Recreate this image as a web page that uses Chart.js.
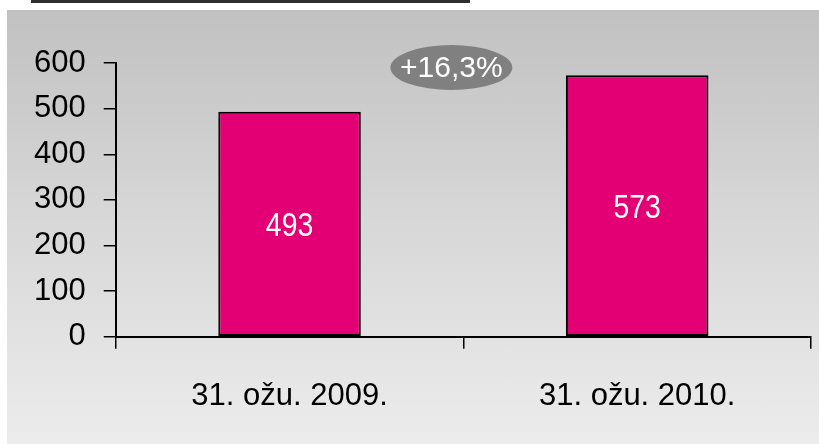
<!DOCTYPE html>
<html>
<head>
<meta charset="utf-8">
<script src="https://cdn.jsdelivr.net/npm/chart.js@4/dist/chart.umd.min.js"></script>
<style>
  html, body { margin: 0; padding: 0; background: #fff; }
  #wrap { position: relative; width: 819px; height: 444px; overflow: hidden; }
  #topbar { position: absolute; left: 31px; top: 0; width: 439px; height: 3px; background: #2e2e2e; }
  #panel { position: absolute; left: 7px; top: 10px; right: 0; bottom: 0;
    background: linear-gradient(to bottom, #c1c1c1 0%, #d6d6d6 45%, #ececec 100%); }
  #chart { position: absolute; left: 0; top: 0; }
</style>
</head>
<body>
<div id="wrap">
  <div id="topbar"></div>
  <div id="panel"></div>
  <canvas id="chart" width="819" height="444"></canvas>
</div>
<script>
const categories = ['31. ožu. 2009.', '31. ožu. 2010.']
const values = [493, 573]
const yTicks = [0, 100, 200, 300, 400, 500, 600]
const changeLabel = '+16,3%'

const magenta = '#e20074'

// value labels inside the bars + the grey oval with the change
const barLabels = {
	id: 'barLabels',
	afterDatasetsDraw(chart) {
		const ctx = chart.ctx
		const meta = chart.getDatasetMeta(0)
		ctx.save()
		ctx.fillStyle = '#fff'
		ctx.font = '33px "Liberation Sans", sans-serif'
		ctx.textAlign = 'center'
		ctx.textBaseline = 'middle'
		meta.data.forEach((bar, i) => {
			const mid = (bar.y + bar.base) / 2
			// narrow look, like the condensed face of the original
			ctx.save()
			ctx.translate(bar.x, mid + 3)
			ctx.scale(0.86, 1)
			ctx.fillText(String(values[i]), 0, 0)
			ctx.restore()
		})

		// change oval
		const x = chart.scales.x.getPixelForValue(0.5) - 12
		const y = chart.scales.y.getPixelForValue(590)
		ctx.fillStyle = '#808080'
		ctx.beginPath()
		ctx.ellipse(x, y, 61, 22.5, 0, 0, Math.PI * 2)
		ctx.fill()
		ctx.fillStyle = '#fff'
		ctx.font = '30px "Liberation Sans", sans-serif'
		ctx.fillText(changeLabel, x, y + 1)
		ctx.restore()
	}
}

new Chart(document.getElementById('chart'), {
	type: 'bar',
	data: {
		labels: categories,
		datasets: [{
			data: values,
			backgroundColor: magenta,
			borderColor: '#000',
			borderWidth: 2,
			borderSkipped: false,
			barPercentage: 0.41,
			categoryPercentage: 1
		}]
	},
	options: {
		responsive: false,
		devicePixelRatio: 1,
		animation: false,
		layout: { padding: { left: 16, right: 8, top: 63, bottom: 0 } },
		plugins: { legend: { display: false }, tooltip: { enabled: false } },
		scales: {
			x: {
				offset: true,
				grid: { offset: true, drawOnChartArea: false, drawTicks: true, tickLength: 12, color: '#000', lineWidth: 1.5 },
				border: { display: true, color: '#000', width: 2 },
				ticks: {
					color: '#000',
					padding: 29,
					font: { family: '"Liberation Sans", sans-serif', size: 31 }
				}
			},
			y: {
				min: 0,
				max: 600,
				afterBuildTicks: (axis) => { axis.ticks = yTicks.map(v => ({ value: v })) },
				grid: { drawOnChartArea: false, drawTicks: true, tickLength: 12, color: '#000', lineWidth: 1.5 },
				border: { display: true, color: '#000', width: 2 },
				ticks: {
					color: '#000',
					padding: 18,
					font: { family: '"Liberation Sans", sans-serif', size: 31 }
				}
			}
		}
	},
	plugins: [barLabels]
})
</script>
</body>
</html>
